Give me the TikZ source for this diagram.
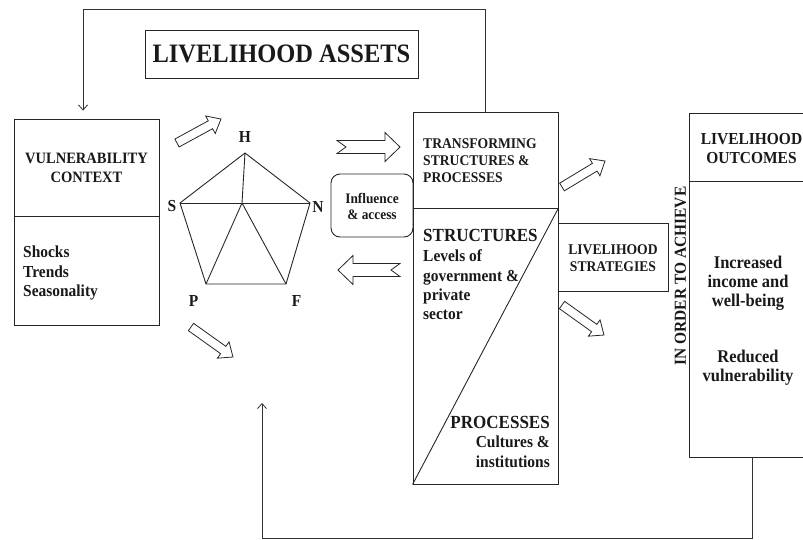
\documentclass[tikz,border=0pt]{standalone}
\usepackage{fontspec}
\setmainfont{Liberation Serif}[FakeStretch=0.92]
\usetikzlibrary{calc,arrows.meta}
\newcommand\fsz[2]{\fontsize{#1}{#2}\selectfont\bfseries}
% hollow block arrow: #1 tail, #2 tip, #3 shaft half width, #4 head half width, #5 head length
\newcommand\hollowarr[5]{%
  \coordinate (hb) at ($(#2)!#5!(#1)$);
  \draw[harr] ($(#1)!#3!90:(#2)$) -- ($(hb)!#3!-90:(#1)$) -- ($(hb)!#4!-90:(#1)$) -- (#2)
    -- ($(hb)!#4!90:(#1)$) -- ($(hb)!#3!90:(#1)$) -- ($(#1)!#3!-90:(#2)$) -- cycle;}
% same with a notched tail: #6 notch depth
\newcommand\notcharr[6]{%
  \coordinate (hb) at ($(#2)!#5!(#1)$);
  \draw[harr] ($(#1)!#3!90:(#2)$) -- ($(hb)!#3!-90:(#1)$) -- ($(hb)!#4!-90:(#1)$) -- (#2)
    -- ($(hb)!#4!90:(#1)$) -- ($(hb)!#3!90:(#1)$) -- ($(#1)!#3!-90:(#2)$) -- ($(#1)!#6!(#2)$) -- cycle;}
\begin{document}
\begin{tikzpicture}[x=1pt,y=-1pt,
  box/.style={draw=black!85, line width=0.9pt, inner sep=0pt},
  harr/.style={draw=black!85, line width=0.8pt, fill=white, line join=miter},
  fb/.style={draw=black!80, line width=0.8pt},
  tip/.style={-{Straight Barb[length=5pt,width=9pt]}},
  txt/.style={inner sep=0pt, text=black!90}]
\useasboundingbox (0,0) rectangle (803,539);
\clip (0,0) rectangle (803,539);

% ---- boxes ----
\node[box, minimum width=273, minimum height=48] (assets) at (281.5,54) {};
\node[box, minimum width=145, minimum height=206] (vc) at (86.5,222) {};
\node[box, minimum width=145, minimum height=372] (ts) at (485.5,298) {};
\node[box, minimum width=82, minimum height=63, rounded corners=9pt] (infl) at (372,205.5) {};
\node[box, minimum width=110, minimum height=68] (ls) at (613,257) {};
\node[box, minimum width=126, minimum height=344] (out) at (752,285) {};

% dividers
\draw[box] (vc.west |- 0,216) -- (vc.east |- 0,216);
\coordinate (tsdiv) at (ts.east |- 0,208);
\draw[box] (ts.west |- 0,208) -- (tsdiv);
\draw[box] (tsdiv) -- (ts.south west);
\draw[box] (out.west |- 0,181) -- (out.east |- 0,181);

% ---- texts ----
\node[txt, font=\fsz{26.6}{30}] (tassets) at (assets.center) {LIVELIHOOD ASSETS};
\node[txt, align=center, font=\fsz{15.8}{19}] (tvc) at (86.5,168) {VULNERABILITY\\CONTEXT};
\node[txt, align=left, anchor=west, font=\fsz{16.8}{19.5}] (tshocks) at (23,273) {Shocks\\Trends\\Seasonality};

\node[txt, align=left, anchor=west, font=\fsz{14.8}{17}] (tts) at (423,161) {TRANSFORMING\\STRUCTURES \&\\PROCESSES};
\node[txt, anchor=west, font=\fsz{18.5}{20}] (tstruct) at (423,235) {STRUCTURES};
\node[txt, align=left, anchor=west, font=\fsz{16.8}{19.3}] (tlevels) at (423,285) {Levels of\\government \&\\private\\sector};
\node[txt, anchor=east, font=\fsz{18.5}{20}] (tproc) at (550,422) {PROCESSES};
\node[txt, align=right, anchor=east, font=\fsz{16.8}{19.5}] (tcult) at (550,452) {Cultures \&\\institutions};

\node[txt, align=center, font=\fsz{14.5}{16}] (tinfl) at (372,206.5) {Influence\\\& access};
\node[txt, align=center, font=\fsz{14.8}{17}] (tls) at (613,258) {LIVELIHOOD\\STRATEGIES};
\node[txt, align=center, font=\fsz{16.8}{18.5}] (tout) at (751.5,148.5) {LIVELIHOOD\\OUTCOMES};
\node[txt, align=center, font=\fsz{17.9}{19}] (tinc) at (748,283) {Increased\\income and\\well-being};
\node[txt, align=center, font=\fsz{17.9}{19}] (tred) at (748,368) {Reduced\\vulnerability};
\node[txt, rotate=90, font=\fsz{16.8}{18}] (tord) at (680.5,276) {IN ORDER TO ACHIEVE};

% ---- asset pentagon ----
\coordinate (H) at (245,153);
\coordinate (S) at (180,203);
\coordinate (N) at (310,203);
\coordinate (P) at (206,284);
\coordinate (F) at (286,284);
\coordinate (C) at (242,203);
\draw[box] (H) -- (N) -- (F) -- (P) -- (S) -- cycle;
\draw[box] (S) -- (N);
\draw[box] (H) -- (C) -- (P);
\draw[box] (C) -- (F);
\node[txt, font=\fsz{16.8}{18}] (lH) at (245,137) {H};
\node[txt, font=\fsz{16.8}{18}] (lS) at (172,206.5) {S};
\node[txt, font=\fsz{16.8}{18}] (lN) at (318,206.5) {N};
\node[txt, font=\fsz{16.8}{18}] (lP) at (193.5,301) {P};
\node[txt, font=\fsz{16.8}{18}] (lF) at (296.5,301) {F};

% ---- hollow arrows ----
\coordinate (a1t) at (177,143);  \coordinate (a1h) at (221,119);
\coordinate (a2t) at (191,327);  \coordinate (a2h) at (233,357);
\coordinate (a3t) at (337,147);  \coordinate (a3h) at (400,147);
\coordinate (a4t) at (400,270);  \coordinate (a4h) at (338,270);
\coordinate (a5t) at (562,187);  \coordinate (a5h) at (605,161);
\coordinate (a6t) at (562,305);  \coordinate (a6h) at (604,335);
\hollowarr{a1t}{a1h}{4.5pt}{10pt}{12pt}
\hollowarr{a2t}{a2h}{4.5pt}{10pt}{12pt}
\hollowarr{a5t}{a5h}{4.5pt}{10pt}{12pt}
\hollowarr{a6t}{a6h}{4.5pt}{10pt}{12pt}
\notcharr{a3t}{a3h}{6.5pt}{14.5pt}{15pt}{9pt}
\notcharr{a4t}{a4h}{6.5pt}{14.5pt}{15pt}{9pt}

% ---- feedback connectors ----
\coordinate (vctip) at (vc.north -| 83,0);
\coordinate (toptip) at ($(vctip)+(0,-8)$);
\draw[fb, tip] (ts.north) -- (ts.north |- 0,9) -- (83,9) -- (toptip);
\coordinate (bottip) at (262,403);
\draw[fb, tip] (out.south) -- (out.south |- 0,538) -- (262,538) -- (bottip);
\end{tikzpicture}
\end{document}
